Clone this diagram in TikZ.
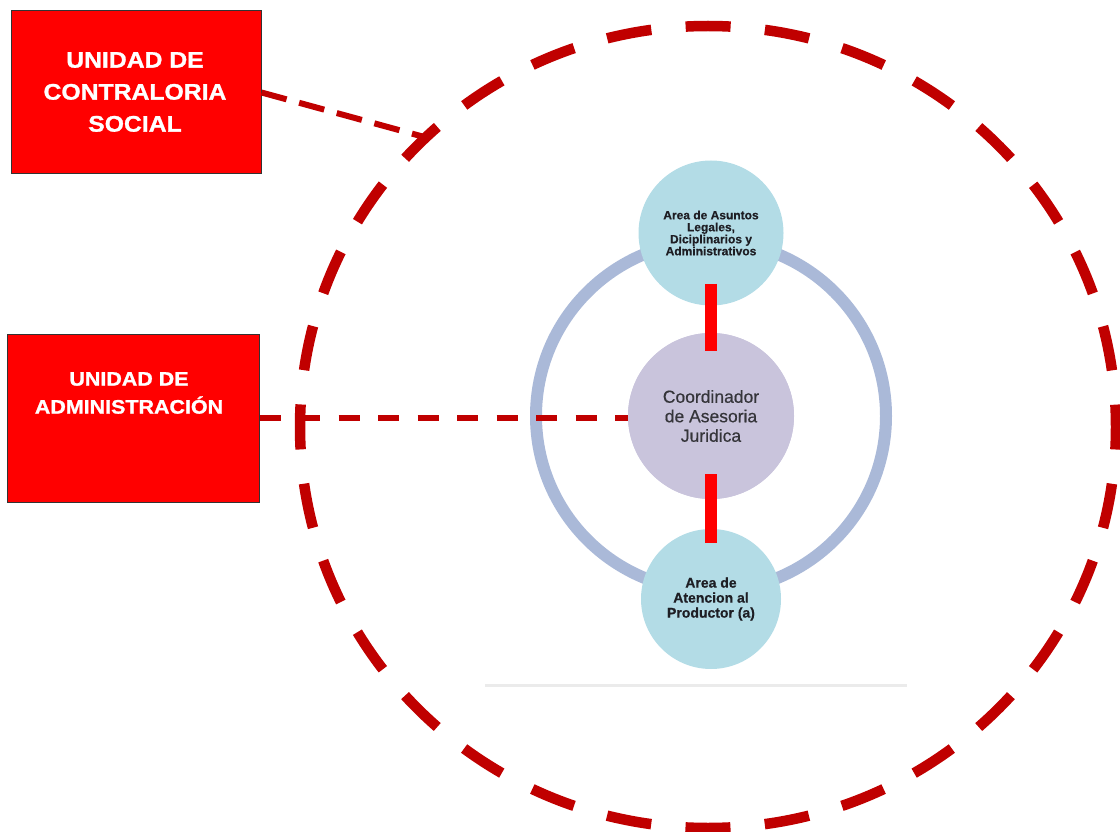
\documentclass[tikz,border=0pt]{standalone}
\usepackage{fontspec}
\setmainfont{Liberation Sans}
\newfontfamily\boxfont[FakeStretch=1.1,FakeBold=1.2]{Liberation Sans}
\newfontfamily\circfont[FakeBold=0.5]{Liberation Sans}
\usetikzlibrary{calc}
\definecolor{unitred}{HTML}{FF0000}
\definecolor{darkred}{HTML}{C00000}
\definecolor{ringblue}{HTML}{AAB9D8}
\definecolor{areablue}{HTML}{B3DCE6}
\definecolor{coordlilac}{HTML}{C9C4DC}
\definecolor{inktext}{HTML}{1E1E24}
\begin{document}
\begin{tikzpicture}[x=1pt,y=-1pt,
  unitbox/.style={draw=black!80, line width=1pt, fill=unitred, inner sep=0pt},
  unittext/.style={text=white, align=center, inner sep=0pt},
  area/.style={circle, fill=areablue, inner sep=0pt, text=inktext, align=center},
  coord/.style={circle, fill=coordlilac, inner sep=0pt, text=inktext!90!white, align=center},
  redbar/.style={draw=unitred, line width=12pt},
  linkdash/.style={draw=darkred, line width=6pt},
  rimdash/.style={draw=darkred, line width=10.5pt,
    dash pattern=on 45pt off 34.44pt, dash phase=22.5pt}]
\useasboundingbox (0,0) rectangle (1120,832);

% base line under the chart
\draw[draw=black!8, line width=3pt] (485,685) -- (907,685);

% outer dashed boundary
\draw[rimdash] (708,427) ellipse [x radius=408, y radius=401];

% ring joining the areas
\draw[draw=ringblue, line width=12pt] (711,416) circle [radius=175];

% unit boxes
\node[unitbox, minimum width=250pt, minimum height=163pt] (contra) at (136,92.5) {};
\node[unittext, font=\boxfont\bfseries\fontsize{22.5}{32}\selectfont] (contratxt) at (135,92)
  {UNIDAD DE\\CONTRALORIA\\SOCIAL};
\node[unitbox, minimum width=252pt, minimum height=168pt] (admin) at (133,418) {};
\node[unittext, font=\boxfont\bfseries\fontsize{19.5}{28}\selectfont] (admintxt) at (129,393)
  {UNIDAD DE\\ADMINISTRACIÓN};

\coordinate (rim) at (428,138);

% dashed links
\draw[linkdash, dash pattern=on 26pt off 13pt] (contra.east) -- (rim);
\node[coord, minimum size=166pt] (jur) at (711,416) {};
\draw[linkdash, dash pattern=on 21pt off 18.5pt] (admin.east) -- (admin.east -| jur.west);

% circles
\node[area, minimum size=145pt, font=\circfont\bfseries\fontsize{12}{12}\selectfont] (legal) at (711,233)
  {Area de Asuntos\\Legales,\\Diciplinarios y\\Administrativos};
\node[coord, minimum size=166pt, font=\circfont\fontsize{17.5}{19.5}\selectfont] (jur) at (711,416)
  {Coordinador\\de Asesoria\\Juridica};
\node[area, minimum size=140pt, font=\circfont\bfseries\fontsize{14}{15}\selectfont] (prod) at (711,599)
  {Area de\\Atencion al\\Productor (a)};

% solid links between areas
\draw[redbar, shorten <=-22pt, shorten >=-18pt] (legal.south) -- (jur.north);
\draw[redbar, shorten <=-25pt, shorten >=-14pt] (jur.south) -- (prod.north);
\end{tikzpicture}
\end{document}
